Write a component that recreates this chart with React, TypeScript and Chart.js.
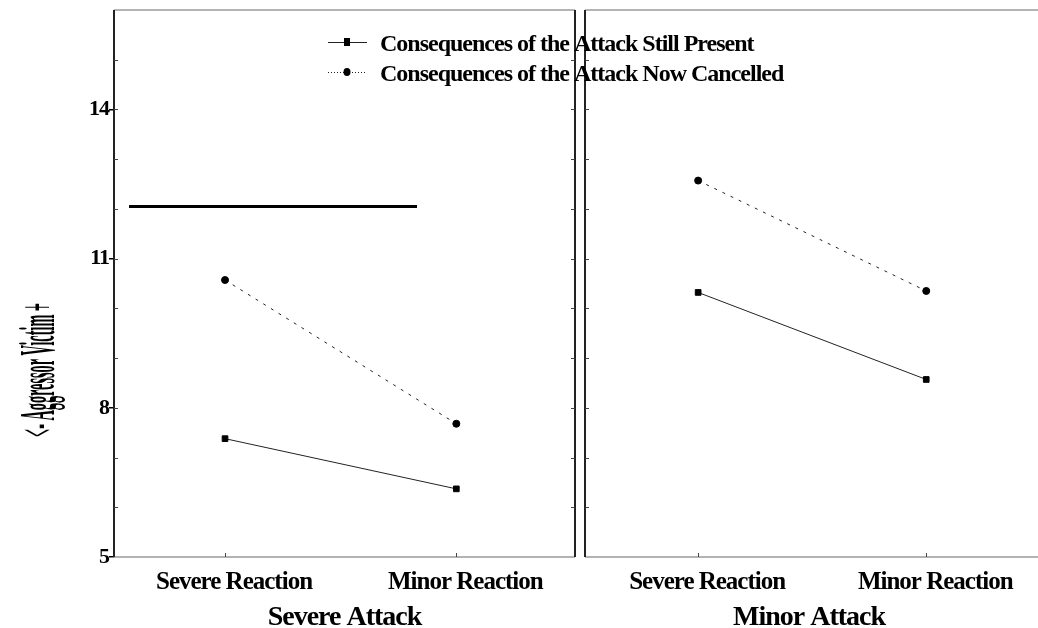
import React, { useEffect, useRef } from 'react';
import { Chart, registerables } from 'chart.js';

Chart.register(...registerables);

// ---------- data ----------
const categories = ['Severe Reaction', 'Minor Reaction'];
const panelTitles = ['Severe Attack', 'Minor Attack'];
const seriesLabels = [
  'Consequences of the Attack Still Present',
  'Consequences of the Attack Now Cancelled',
];
const stillPresentSevereAttack = [7.38, 6.37];
const nowCancelledSevereAttack = [10.57, 7.68];
const stillPresentMinorAttack = [10.32, 8.57];
const nowCancelledMinorAttack = [12.57, 10.35];
const yMin = 5;
const yMax = 16;
const yTickLabels = [5, 8, 11, 14];
const refLineX = [-0.415, 0.83];
const refLineY = 12.05;
const yAxisTitle = '<- Aggressor Victim +';

// ---------- styles ----------
const FAMILY = '"Liberation Serif", "Times New Roman", serif';
const SPACING = '-1px';

const spacingPlugin = {
  id: 'spacing',
  beforeUpdate(chart: any) {
    chart.ctx.letterSpacing = SPACING;
  },
  beforeDraw(chart: any) {
    chart.ctx.letterSpacing = SPACING;
  },
};

const framePlugin = {
  id: 'frame',
  afterDraw(chart: any, _args: any, opts: any) {
    const { ctx, chartArea } = chart;
    const { left, right, top, bottom } = chartArea;
    const yScale = chart.scales.y;
    const xScale = chart.scales.x;
    const endX = opts.rightEdge ? right : chart.width;
    ctx.save();
    ctx.setLineDash([]);
    ctx.strokeStyle = '#9a9a9a';
    ctx.lineWidth = 1.5;
    ctx.beginPath();
    ctx.moveTo(left, top);
    ctx.lineTo(endX, top);
    ctx.moveTo(left, bottom);
    ctx.lineTo(endX, bottom);
    ctx.stroke();
    ctx.strokeStyle = '#222';
    ctx.lineWidth = 2;
    ctx.beginPath();
    ctx.moveTo(left, top);
    ctx.lineTo(left, bottom);
    if (opts.rightEdge) {
      ctx.moveTo(right, top);
      ctx.lineTo(right, bottom);
    }
    ctx.stroke();
    // inner minor ticks
    ctx.strokeStyle = '#444';
    ctx.lineWidth = 1;
    ctx.beginPath();
    for (let v = yMin + 1; v < yMax; v++) {
      const py = Math.round(yScale.getPixelForValue(v)) + 0.5;
      ctx.moveTo(left, py);
      ctx.lineTo(left + 4, py);
      if (opts.rightEdge) {
        ctx.moveTo(right, py);
        ctx.lineTo(right - 4, py);
      }
    }
    categories.forEach((_c, i) => {
      const px = Math.round(xScale.getPixelForValue(i)) + 0.5;
      ctx.moveTo(px, bottom);
      ctx.lineTo(px, bottom - 4);
    });
    ctx.stroke();
    ctx.restore();
  },
};

const legendPlugin = {
  id: 'customLegend',
  afterDraw(chart: any) {
    const ctx = chart.ctx;
    const items = chart.data.datasets.filter((d: any) => d.label);
    items.forEach((ds: any, i: number) => {
      const markerY = 42 + i * 30;
      const textY = 45 + i * 30;
      ctx.save();
      ctx.strokeStyle = '#222';
      ctx.lineWidth = 1;
      ctx.setLineDash(ds.borderDash && ds.borderDash.length ? [1, 2] : []);
      ctx.beginPath();
      ctx.moveTo(328, markerY + 0.5);
      ctx.lineTo(367, markerY + 0.5);
      ctx.stroke();
      ctx.setLineDash([]);
      ctx.fillStyle = '#000';
      if (ds.pointStyle === 'rect') {
        ctx.fillRect(344, markerY - 4, 6, 8);
      } else {
        ctx.beginPath();
        ctx.ellipse(347, markerY, 3.5, 4, 0, 0, Math.PI * 2);
        ctx.fill();
      }
      ctx.font = `bold 24px ${FAMILY}`;
      ctx.letterSpacing = SPACING;
      ctx.textAlign = 'left';
      ctx.textBaseline = 'middle';
      ctx.fillText(ds.label, 380, textY);
      ctx.restore();
    });
  },
};

const yTitlePlugin = {
  id: 'yTitle',
  afterDraw(chart: any) {
    const ctx = chart.ctx;
    ctx.save();
    ctx.font = `bold 50px ${FAMILY}`;
    ctx.letterSpacing = '0px';
    const w = ctx.measureText(yAxisTitle).width;
    ctx.translate(41, 370);
    ctx.rotate(-Math.PI / 2);
    ctx.scale(134 / w, 1);
    ctx.fillStyle = '#000';
    ctx.textAlign = 'center';
    ctx.textBaseline = 'middle';
    ctx.fillText(yAxisTitle, 0, 0);
    ctx.restore();
  },
};

function buildConfig(
  panel: number,
  still: number[],
  cancelled: number[],
  xMin: number,
  xMax: number,
  padRight: number,
  yWidth: number,
  isLeft: boolean
): any {
  const datasets: any[] = [
    {
      label: seriesLabels[0],
      data: still.map((v, i) => ({ x: i, y: v })),
      borderColor: '#222',
      borderWidth: 1,
      pointStyle: 'rect',
      pointRadius: 4,
      pointBackgroundColor: '#000',
      pointBorderColor: '#000',
      pointBorderWidth: 1,
      tension: 0,
    },
    {
      label: seriesLabels[1],
      data: cancelled.map((v, i) => ({ x: i, y: v })),
      borderColor: '#222',
      borderWidth: 1,
      borderDash: [3, 6],
      pointStyle: 'circle',
      pointRadius: 3.5,
      pointBackgroundColor: '#000',
      pointBorderColor: '#000',
      pointBorderWidth: 1,
      tension: 0,
    },
  ];
  if (isLeft) {
    datasets.push({
      label: '',
      data: refLineX.map((x) => ({ x, y: refLineY })),
      borderColor: '#000',
      borderWidth: 3,
      pointRadius: 0,
    });
  }
  return {
    type: 'line',
    data: { datasets },
    options: {
      responsive: false,
      animation: false,
      events: [],
      layout: { padding: { left: 0, top: 10, right: padRight, bottom: 0 } },
      plugins: {
        legend: { display: false },
        tooltip: { enabled: false },
        frame: { rightEdge: isLeft },
      },
      scales: {
        x: {
          type: 'linear',
          min: xMin,
          max: xMax,
          afterBuildTicks: (s: any) => {
            s.ticks = categories.map((_c, i) => ({ value: i }));
          },
          afterFit: (s: any) => {
            s.height = 71;
            s.paddingLeft = 0;
            s.paddingRight = 0;
          },
          ticks: {
            callback: (v: any) => categories[v] ?? '',
            font: { family: FAMILY, size: 25, weight: 'bold' },
            color: '#000',
            padding: 3,
            labelOffset: 9,
            maxRotation: 0,
            autoSkip: false,
          },
          grid: { display: false },
          border: { display: false },
          title: {
            display: true,
            text: panelTitles[panel],
            font: { family: FAMILY, size: 28, weight: 'bold' },
            color: '#000',
            padding: { top: 0, bottom: -7 },
          },
        },
        y: {
          min: yMin,
          max: yMax,
          afterFit: (s: any) => {
            s.width = yWidth;
            s.paddingTop = 0;
            s.paddingBottom = 0;
          },
          ticks: {
            display: isLeft,
            stepSize: 1,
            padding: 0,
            autoSkip: false,
            color: '#000',
            font: { family: FAMILY, size: 22, weight: 'bold' },
            callback: (v: any) => (yTickLabels.includes(v) ? String(v) : ''),
          },
          grid: {
            display: isLeft,
            drawOnChartArea: false,
            tickLength: 5,
            lineWidth: 1.5,
            color: (c: any) =>
              c.tick && yTickLabels.includes(c.tick.value) ? '#000' : 'rgba(0,0,0,0)',
          },
          border: { display: false },
        },
      },
    },
    plugins: isLeft
      ? [spacingPlugin, framePlugin, legendPlugin, yTitlePlugin]
      : [spacingPlugin, framePlugin],
  };
}

export default function App() {
  const leftRef = useRef<HTMLCanvasElement>(null);
  const rightRef = useRef<HTMLCanvasElement>(null);

  useEffect(() => {
    const a = new Chart(
      leftRef.current!,
      buildConfig(0, stillPresentSevereAttack, nowCancelledSevereAttack, -0.48, 1.513, 1038 - 575, 114, true)
    );
    const b = new Chart(
      rightRef.current!,
      buildConfig(1, stillPresentMinorAttack, nowCancelledMinorAttack, -0.496, 1.468, 0, 4, false)
    );
    return () => {
      a.destroy();
      b.destroy();
    };
  }, []);

  return (
    <div
      style={{
        position: 'fixed',
        left: 0,
        top: 0,
        width: 1038,
        height: 628,
        background: '#fff',
        overflow: 'hidden',
      }}
    >
      <canvas
        ref={rightRef}
        width={458}
        height={628}
        style={{ position: 'absolute', left: 580, top: 0, width: 458, height: 628 }}
      />
      <canvas
        ref={leftRef}
        width={1038}
        height={628}
        style={{ position: 'absolute', left: 0, top: 0, width: 1038, height: 628 }}
      />
    </div>
  );
}
